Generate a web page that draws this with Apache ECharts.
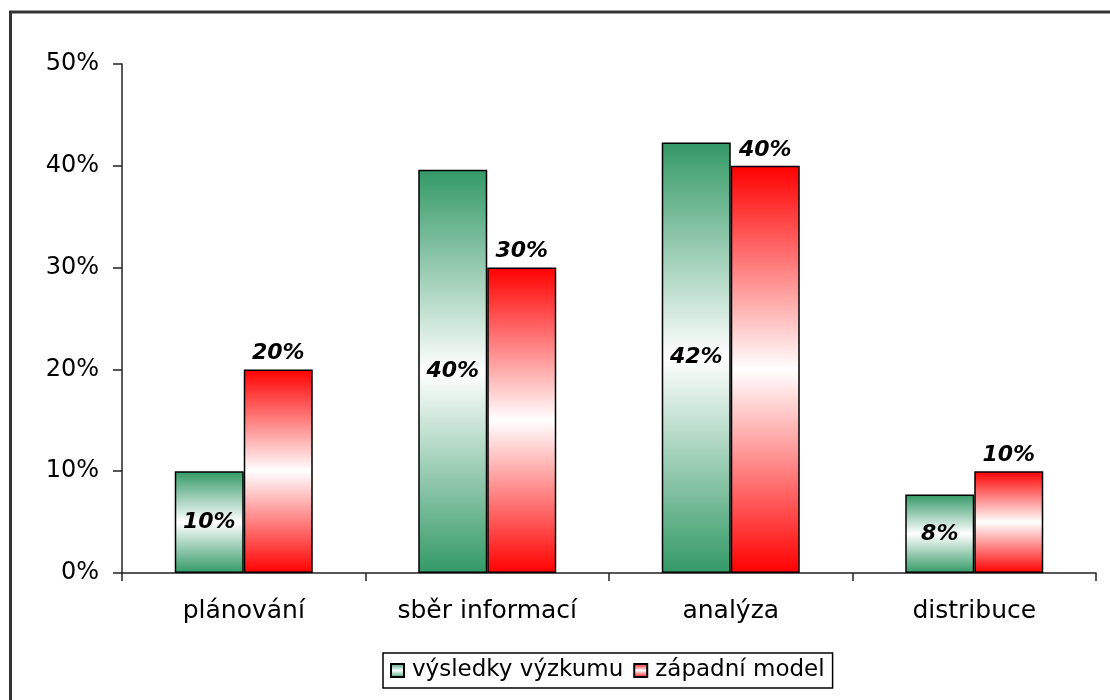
<!DOCTYPE html>
<html>
<head>
<meta charset="utf-8">
<script src="https://cdn.jsdelivr.net/npm/echarts@6/dist/echarts.min.js"></script>
<style>
  html, body { margin: 0; padding: 0; background: #fff; }
  #chart { width: 1110px; height: 700px; }
</style>
</head>
<body>
<div id="chart"></div>
<script>
const categories = ['plánování', 'sběr informací', 'analýza', 'distribuce']
const researchValues = [10, 39.6, 42.3, 7.7]
const westernValues = [20, 30, 40, 10]
const seriesNames = ['výsledky výzkumu', 'západní model']

const font = 'DejaVu Sans'

function bandGradient(color) {
  return new echarts.graphic.LinearGradient(0, 0, 0, 1, [
    { offset: 0, color: color },
    { offset: 0.5, color: '#ffffff' },
    { offset: 1, color: color }
  ])
}

const valueLabel = {
  show: true,
  fontFamily: font,
  fontSize: 22,
  fontWeight: 'bold',
  fontStyle: 'italic',
  color: '#000',
  formatter: (p) => Math.round(p.value) + '%'
}

const chart = echarts.init(document.getElementById('chart'))

chart.setOption({
  animation: false,
  backgroundColor: '#fff',
  textStyle: { fontFamily: font },
  graphic: [
    {
      type: 'rect',
      shape: { x: 10.5, y: 12, width: 1200, height: 800 },
      style: { fill: 'none', stroke: '#333', lineWidth: 3 },
      silent: true
    }
  ],
  legend: {
    left: 383,
    top: 653,
    padding: [6, 8, 6, 7],
    borderColor: '#000',
    borderWidth: 1.5,
    itemWidth: 13,
    itemHeight: 13,
    itemGap: 10,
    icon: 'rect',
    textStyle: { fontFamily: font, fontSize: 23, color: '#000', padding: [0, 0, 0, 3] },
    data: seriesNames
  },
  grid: {
    left: 122,
    right: 14,
    top: 64,
    bottom: 127,
    containLabel: false
  },
  xAxis: {
    type: 'category',
    data: categories,
    axisLine: { lineStyle: { color: '#222', width: 1.5 } },
    axisTick: { show: true, length: 8, lineStyle: { color: '#222', width: 1.5 } },
    axisLabel: { color: '#000', fontFamily: font, fontSize: 25, margin: 26 }
  },
  yAxis: {
    type: 'value',
    min: 0,
    max: 50,
    interval: 10,
    axisLine: { show: true, lineStyle: { color: '#222', width: 1.5 } },
    axisTick: { show: true, length: 9, lineStyle: { color: '#222', width: 1.5 } },
    axisLabel: { color: '#000', fontFamily: font, fontSize: 24, margin: 23, formatter: '{value}%' },
    splitLine: { show: false }
  },
  series: [
    {
      name: seriesNames[0],
      type: 'bar',
      data: researchValues,
      barWidth: 69,
      barGap: '0%',
      itemStyle: { color: bandGradient('#339966'), borderColor: '#000', borderWidth: 1.5 },
      label: Object.assign({}, valueLabel, { position: 'inside' })
    },
    {
      name: seriesNames[1],
      type: 'bar',
      data: westernValues,
      barWidth: 69,
      barGap: '0%',
      itemStyle: { color: bandGradient('#ff0000'), borderColor: '#000', borderWidth: 1.5 },
      label: Object.assign({}, valueLabel, { position: 'top', distance: 5 })
    }
  ]
})
</script>
</body>
</html>
